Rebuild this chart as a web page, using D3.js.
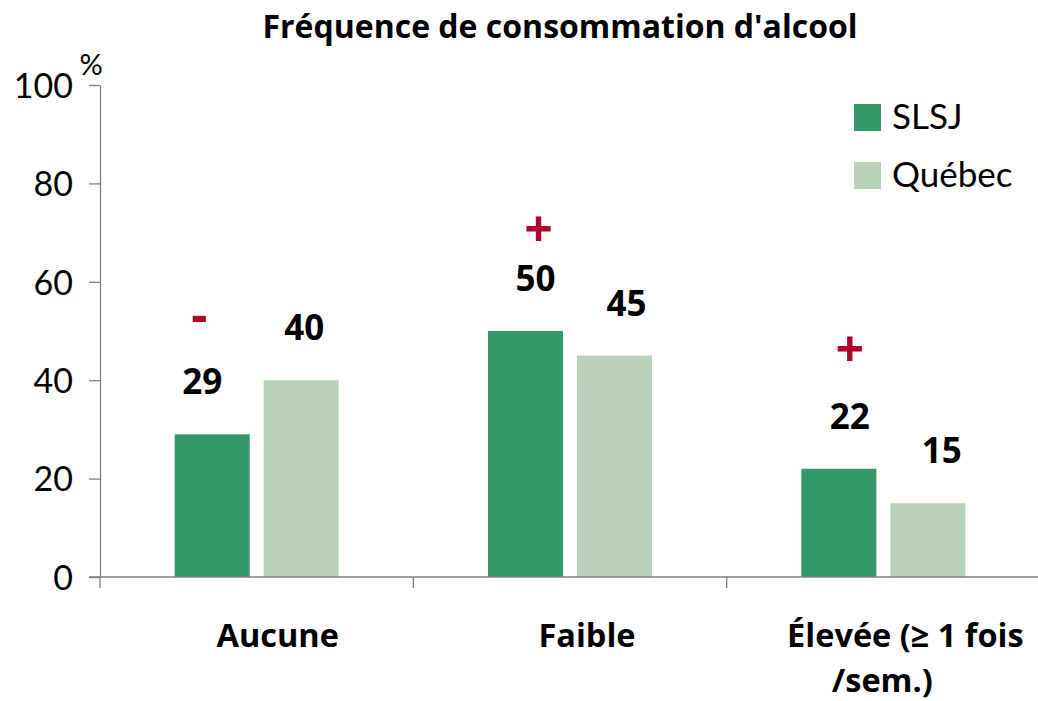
<!DOCTYPE html>
<html>
<head>
<meta charset="utf-8">
<script src="https://cdn.jsdelivr.net/npm/d3@7"></script>
<style>
  html, body { margin: 0; padding: 0; background: #fff; }
  svg { display: block; }
  text { font-family: Lato, "Open Sans", sans-serif; }
  .bold { font-family: "Open Sans", Lato, sans-serif; font-weight: 700; }
</style>
</head>
<body>
<svg id="chart" width="1038" height="701"></svg>
<script>
// Data
const categories = ["Aucune", "Faible", "Élevée (≥ 1 fois /sem.)"];
const categoryLines = [["Aucune"], ["Faible"], ["Élevée (≥ 1 fois", "/sem.)"]];
const series = ["SLSJ", "Québec"];
const slsjValues = [29, 50, 22];
const quebecValues = [40, 45, 15];
const slsjSigns = ["-", "+", "+"];
const yTicks = [0, 20, 40, 60, 80, 100];

const colors = { "SLSJ": "#339966", "Québec": "#b8d2b9" };
const signColor = "#b0002c";
const axisColor = "#7f7f7f";

const svg = d3.select("#chart");
const W = 1038;

const x0 = d3.scaleBand().domain(categories).range([100, 1040]).paddingInner(0).paddingOuter(0);
const bw = x0.bandwidth();
const groupW = 164;
const x1 = d3.scaleBand().domain(series)
  .range([(bw - groupW) / 2, (bw + groupW) / 2])
  .paddingInner(0.157).paddingOuter(0);
const y = d3.scaleLinear().domain([0, 100]).range([577, 85]);

// Title
svg.append("text")
  .attr("class", "bold")
  .attr("x", 560).attr("y", 38)
  .attr("text-anchor", "middle")
  .attr("font-size", 32)
  .attr("fill", "#000")
  .text("Fréquence de consommation d'alcool");

// Y axis
const yAxis = d3.axisLeft(y).tickValues(yTicks).tickSize(11).tickSizeOuter(0).tickPadding(16);
const gy = svg.append("g").attr("transform", "translate(100,0)").call(yAxis);
gy.select(".domain").attr("stroke", axisColor).attr("stroke-width", 1.3);
gy.selectAll(".tick line").attr("stroke", axisColor).attr("stroke-width", 1.3);
gy.selectAll(".tick text")
  .attr("font-family", "Lato, 'Open Sans', sans-serif")
  .attr("font-size", 34).attr("fill", "#000").attr("dy", "0.36em");

// Unit label
svg.append("text")
  .attr("x", 91).attr("y", 75)
  .attr("text-anchor", "middle")
  .attr("font-size", 29).attr("fill", "#000")
  .text("%");

// Bars
const rows = categories.map((c, i) => ({ cat: c, i, vals: [
  { s: "SLSJ", v: slsjValues[i] }, { s: "Québec", v: quebecValues[i] }
]}));

const groups = svg.append("g").selectAll("g").data(rows).join("g")
  .attr("transform", d => `translate(${x0(d.cat)},0)`);

groups.selectAll("rect").data(d => d.vals).join("rect")
  .attr("x", d => x1(d.s))
  .attr("width", x1.bandwidth())
  .attr("y", d => y(d.v))
  .attr("height", d => y(0) - y(d.v))
  .attr("fill", d => colors[d.s]);

// Value labels (hand-placed nudges as in the original layout)
const labelNudge = { "SLSJ": [-10, 10, 11], "Québec": [3, 12, 14] };
groups.selectAll("text.val").data(d => d.vals.map(v => ({ ...v, i: d.i }))).join("text")
  .attr("class", "val bold")
  .attr("x", d => x1(d.s) + x1.bandwidth() / 2 + labelNudge[d.s][d.i])
  .attr("y", d => y(d.v) - 40)
  .attr("text-anchor", "middle")
  .attr("font-size", 35).attr("fill", "#000")
  .text(d => d3.format("d")(d.v));

// Significance signs above SLSJ bars
const signRise = [116, 102, 120];
const signNudge = [-13, 13, 11];
svg.append("g").selectAll("text").data(slsjSigns).join("text")
  .attr("class", "bold")
  .attr("x", (d, i) => x0(categories[i]) + x1("SLSJ") + x1.bandwidth() / 2 + signNudge[i])
  .attr("y", (d, i) => y(slsjValues[i]) - signRise[i])
  .attr("dy", d => d === "+" ? "0.36em" : "0.27em")
  .attr("text-anchor", "middle")
  .attr("font-weight", 800)
  .attr("font-size", 50)
  .attr("fill", signColor)
  .text(d => d);

// X axis line and boundary ticks
const gx = svg.append("g");
gx.append("line")
  .attr("x1", 89).attr("x2", W).attr("y1", y(0)).attr("y2", y(0))
  .attr("stroke", axisColor).attr("stroke-width", 1.3);
gx.selectAll("line.tk").data(categories).join("line")
  .attr("class", "tk")
  .attr("x1", d => x0(d)).attr("x2", d => x0(d))
  .attr("y1", y(0)).attr("y2", y(0) + 11)
  .attr("stroke", axisColor).attr("stroke-width", 1.3);

// Category labels
const catNudge = [[21], [17], [22, -1]];
svg.append("g").selectAll("text").data(categoryLines).join("text")
  .attr("class", "bold")
  .attr("font-size", 32.5).attr("fill", "#000")
  .attr("text-anchor", "middle")
  .each(function (lines, i) {
    const t = d3.select(this);
    lines.forEach((ln, j) => {
      t.append("tspan")
        .attr("x", x0(categories[i]) + bw / 2 + catNudge[i][j])
        .attr("y", 647 + j * 45)
        .text(ln);
    });
  });

// Legend
const legend = svg.append("g").selectAll("g").data(series).join("g")
  .attr("transform", (d, i) => `translate(854,${104 + i * 58})`);
legend.append("rect")
  .attr("width", 27).attr("height", 27)
  .attr("fill", d => colors[d]);
legend.append("text")
  .attr("x", 38).attr("y", 25)
  .attr("font-size", 35).attr("fill", "#000")
  .text(d => d);
</script>
</body>
</html>
